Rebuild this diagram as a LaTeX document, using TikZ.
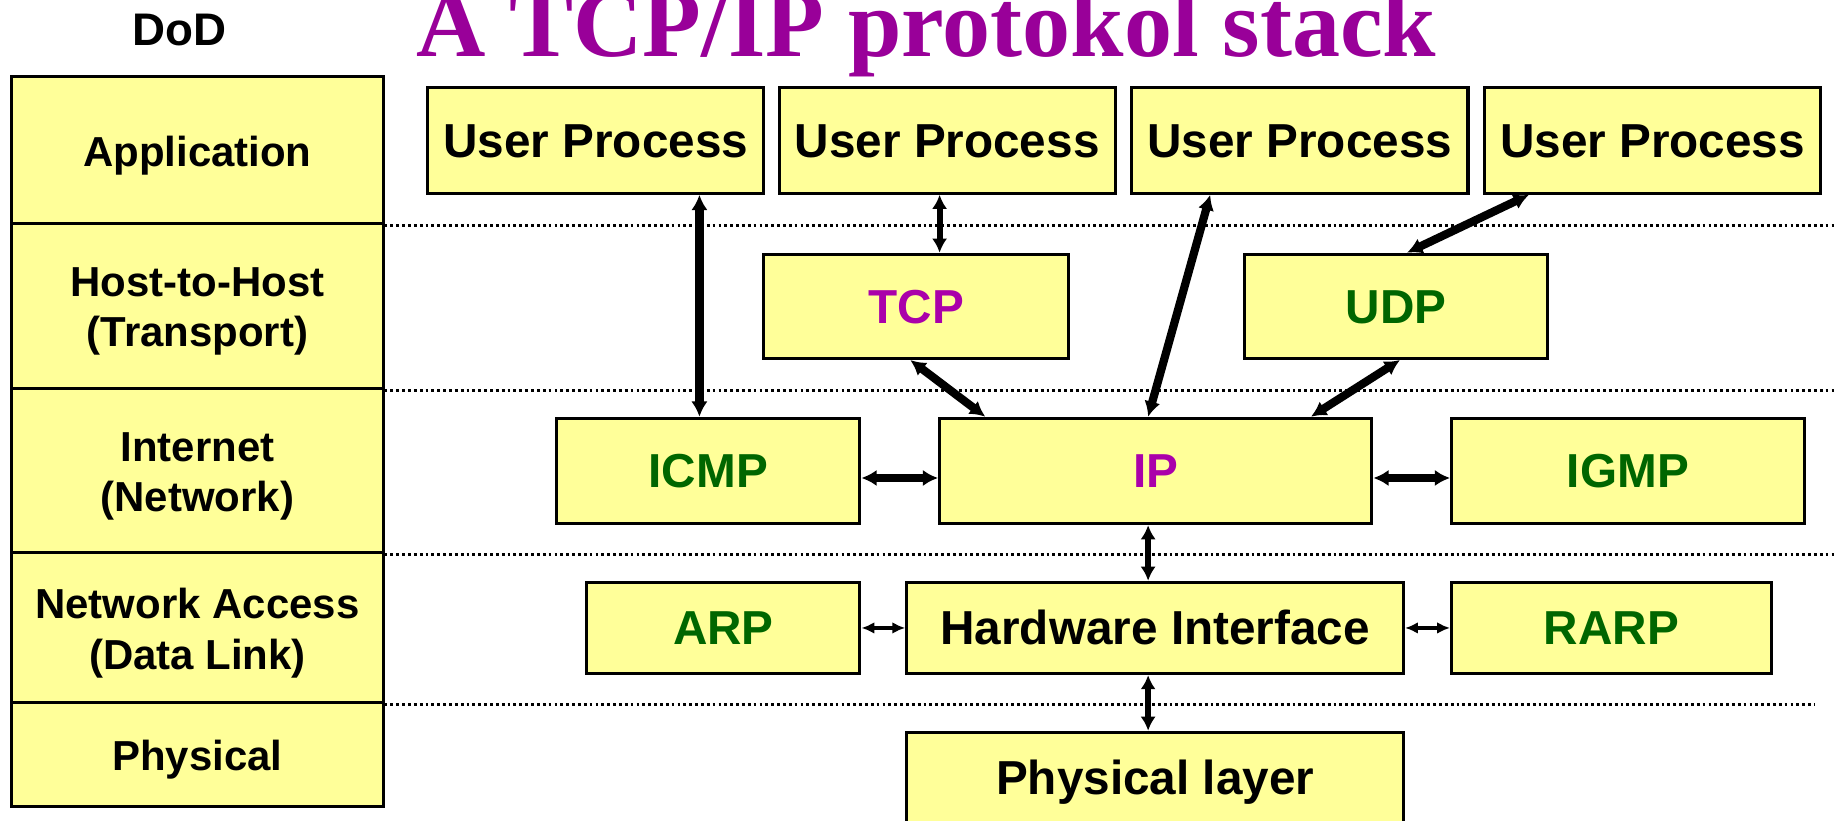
\documentclass[tikz,border=0pt]{standalone}
\usepackage{fontspec}
\setmainfont{Liberation Sans}
\newfontfamily\titlefont{Liberation Serif}
\usepackage{tikz}
\usetikzlibrary{arrows.meta}
\definecolor{boxyellow}{RGB}{255,255,153}
\definecolor{titlepurple}{RGB}{153,0,153}
\definecolor{protopurple}{RGB}{170,0,170}
\definecolor{protogreen}{RGB}{0,102,0}

\tikzset{
  proto/.style={draw, line width=2.6pt, fill=boxyellow, inner sep=0pt,
    text height=29pt, text depth=0pt, font=\bfseries\fontsize{40.7}{48}\selectfont},
  layer/.style={draw, line width=2.6pt, fill=boxyellow, inner sep=0pt, minimum width=317pt},
  layertext/.style={align=center, yshift=-4.5pt, font=\bfseries\fontsize{35.8}{43}\selectfont},
  link/.style={{Latex[length=12pt,width=13pt]}-{Latex[length=12pt,width=13pt]}, line width=5pt},
  fatlink/.style={{Latex[length=13pt,width=14pt]}-{Latex[length=13pt,width=14pt]}, line width=7pt},
  thinlink/.style={{Latex[length=11pt,width=10pt]}-{Latex[length=11pt,width=10pt]}, line width=3.5pt},
  layerline/.style={line width=2.4pt, dash pattern=on 2.4pt off 2.6pt}
}

\begin{document}
\begin{tikzpicture}[x=1pt,y=-1pt]
	\useasboundingbox (0,0) rectangle (1568,700);
	\coordinate (edge) at (1568,0);
	\coordinate (edgeb) at (1549,0);

	% titles
	\node[anchor=base, inner sep=0pt, font=\bfseries\fontsize{39}{46}\selectfont] (dod) at (153,39) {DoD};
	\node[anchor=base west, inner sep=0pt, text=titlepurple,
	      font=\titlefont\bfseries\fontsize{82}{90}\selectfont] (title) at (355,48) {A TCP/IP protokol stack};

	% DoD layers
	\node[layer, minimum height=126pt, label={[layertext]center:Application}] (lapp) at (168.5,128) {};
	\node[layer, minimum height=141pt, label={[layertext]center:Host-to-Host\\(Transport)}] (lhost) at (168.5,261.5) {};
	\node[layer, minimum height=140pt, label={[layertext]center:Internet\\(Network)}] (lnet) at (168.5,402) {};
	\node[layer, minimum height=128pt, label={[layertext]center:Network Access\\(Data Link)}] (lacc) at (168.5,536) {};
	\node[layer, minimum height=88pt, label={[layertext]center:Physical}] (lphy) at (168.5,644) {};

	\draw[layerline] (lapp.south east) -- (lapp.south east -| edge);
	\draw[layerline] (lhost.south east) -- (lhost.south east -| edge);
	\draw[layerline] (lnet.south east) -- (lnet.south east -| edge);
	\draw[layerline] (lacc.south east) -- (lacc.south east -| edgeb);

	% protocol boxes
	\node[proto, minimum width=287pt, minimum height=90pt] (up1) at (508.5,120) {User Process};
	\node[proto, minimum width=287pt, minimum height=90pt] (up2) at (808.5,120) {User Process};
	\node[proto, minimum width=287pt, minimum height=90pt] (up3) at (1109.5,120) {User Process};
	\node[proto, minimum width=287pt, minimum height=90pt] (up4) at (1410.5,120) {User Process};

	\node[proto, minimum width=260pt, minimum height=89pt, text=protopurple] (tcp) at (782,261.5) {TCP};
	\node[proto, minimum width=259pt, minimum height=89pt, text=protogreen] (udp) at (1191.5,261.5) {UDP};

	\node[proto, minimum width=259pt, minimum height=90pt, text=protogreen] (icmp) at (604.5,402) {ICMP};
	\node[proto, minimum width=369pt, minimum height=90pt, text=protopurple] (ip) at (986.5,402) {IP};
	\node[proto, minimum width=301pt, minimum height=90pt, text=protogreen] (igmp) at (1389.5,402) {IGMP};

	\node[proto, minimum width=233pt, minimum height=78pt, text=protogreen] (arp) at (617.5,536) {ARP};
	\node[proto, minimum width=424pt, minimum height=78pt] (hw) at (986,536) {Hardware Interface};
	\node[proto, minimum width=273pt, minimum height=78pt, text=protogreen] (rarp) at (1375.5,536) {RARP};

	\node[proto, minimum width=424pt, minimum height=77pt] (phy) at (986,663.5) {Physical layer};

	% links
	\draw[fatlink] ([xshift=88.5pt]up1.south) -- ([xshift=-7.5pt]icmp.north);
	\draw[link] ([xshift=-6.5pt]up2.south) -- ([xshift=20pt]tcp.north);
	\draw[fatlink] ([xshift=-76.5pt]up3.south) -- ([xshift=-6.5pt]ip.north);
	\draw[fatlink] ([xshift=-105.5pt]up4.south) -- ([xshift=9.5pt]udp.north);
	\draw[fatlink] ([xshift=-5pt]tcp.south) -- ([xshift=-145.5pt]ip.north);
	\draw[fatlink] ([xshift=3.5pt]udp.south) -- ([xshift=132.5pt]ip.north);
	\draw[fatlink] ([yshift=-6pt]icmp.east) -- ([yshift=-6pt]ip.west);
	\draw[fatlink] ([yshift=-6pt]ip.east) -- ([yshift=-6pt]igmp.west);
	\draw[link] ([xshift=-6.5pt]ip.south) -- ([xshift=-6pt]hw.north);
	\draw[thinlink] (arp.east) -- (hw.west);
	\draw[thinlink] (hw.east) -- (rarp.west);
	\draw[link] ([xshift=-6pt]hw.south) -- ([xshift=-6pt]phy.north);
\end{tikzpicture}
\end{document}
